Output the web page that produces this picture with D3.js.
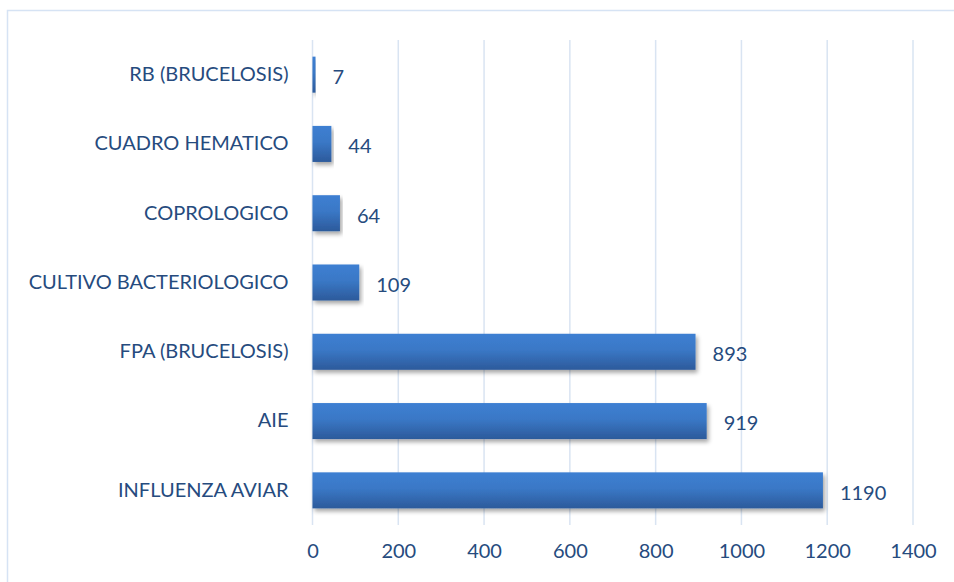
<!DOCTYPE html>
<html>
<head>
<meta charset="utf-8">
<script src="https://cdn.jsdelivr.net/npm/d3@7"></script>
<style>
  body { margin: 0; background: #fff; }
  text { font-family: Lato, "Open Sans", sans-serif; fill: #264b7e; }
</style>
</head>
<body>
<svg id="chart" width="954" height="582"></svg>
<script>
// categories, top to bottom as drawn
var categories = ["RB (BRUCELOSIS)", "CUADRO HEMATICO", "COPROLOGICO", "CULTIVO BACTERIOLOGICO", "FPA (BRUCELOSIS)", "AIE", "INFLUENZA AVIAR"];
var values = [7, 44, 64, 109, 893, 919, 1190];
var xTicks = [0, 200, 400, 600, 800, 1000, 1200, 1400];

var svg = d3.select("#chart");

// outer frame
svg.append("rect")
  .attr("x", 7.5).attr("y", 10.5)
  .attr("width", 960).attr("height", 600)
  .attr("fill", "none")
  .attr("stroke", "#d6e3f4")
  .attr("stroke-width", 1.5);

var defs = svg.append("defs");
var grad = defs.append("linearGradient")
  .attr("id", "barGrad").attr("x1", 0).attr("y1", 0).attr("x2", 0).attr("y2", 1);
grad.append("stop").attr("offset", "0%").attr("stop-color", "#3d7fd2");
grad.append("stop").attr("offset", "45%").attr("stop-color", "#3a78c6");
grad.append("stop").attr("offset", "100%").attr("stop-color", "#2c5a9b");

var shadow = defs.append("filter").attr("id", "shadow")
  .attr("x", "-5%").attr("y", "-20%").attr("width", "115%").attr("height", "160%");
shadow.append("feDropShadow")
  .attr("dx", 2).attr("dy", 3).attr("stdDeviation", 2)
  .attr("flood-color", "#000").attr("flood-opacity", 0.35);

var x = d3.scaleLinear().domain([0, 1400]).range([312.5, 913]);
var y = d3.scaleBand().domain(categories).range([40, 525]).paddingInner(0.48).paddingOuter(0.24);

// gridlines
svg.append("g").selectAll("line")
  .data(xTicks)
  .join("line")
  .attr("x1", d => x(d)).attr("x2", d => x(d))
  .attr("y1", 40).attr("y2", 525)
  .attr("stroke", "#d9e4f2")
  .attr("stroke-width", 1.5);

// x axis labels
var xAxis = d3.axisBottom(x).tickValues(xTicks).tickFormat(d3.format("d")).tickSize(0).tickPadding(0);
var gx = svg.append("g").attr("transform", "translate(0,544)").call(xAxis);
gx.select(".domain").remove();
gx.selectAll("text").attr("dy", "0.71em").style("font-size", "20px").style("font-family", "Lato, sans-serif").attr("fill", "#264b7e");

// y axis labels
var yAxis = d3.axisLeft(y).tickSize(0).tickPadding(24);
var gy = svg.append("g").attr("transform", "translate(312.5,0)").call(yAxis);
gy.select(".domain").remove();
gy.selectAll("text").style("font-size", "20px").style("font-family", "Lato, sans-serif").attr("fill", "#264b7e");

// bars
svg.append("g").selectAll("rect")
  .data(categories)
  .join("rect")
  .attr("x", x(0))
  .attr("y", d => y(d))
  .attr("width", (d, i) => x(values[i]) - x(0))
  .attr("height", y.bandwidth())
  .attr("fill", "url(#barGrad)")
  .attr("filter", "url(#shadow)");

// value labels
svg.append("g").selectAll("text")
  .data(categories)
  .join("text")
  .attr("x", (d, i) => x(values[i]) + 17)
  .attr("y", d => y(d) + y.bandwidth() / 2 + 3)
  .attr("dy", "0.32em")
  .style("font-size", "20px")
  .text((d, i) => values[i]);
</script>
</body>
</html>
